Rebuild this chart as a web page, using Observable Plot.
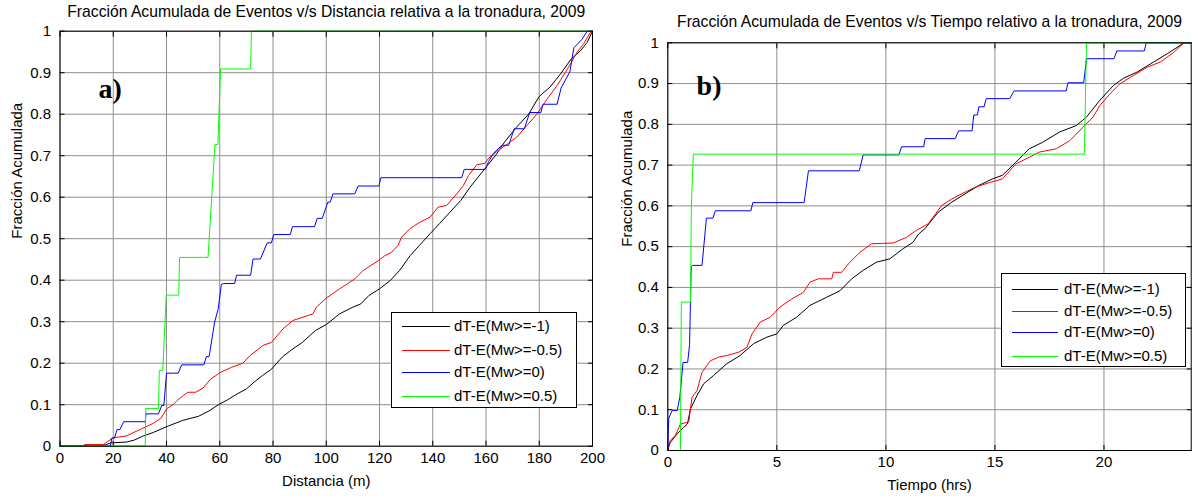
<!DOCTYPE html>
<html><head><meta charset="utf-8">
<script src="https://cdn.jsdelivr.net/npm/d3@7"></script>
<script src="https://cdn.jsdelivr.net/npm/@observablehq/plot@0.6"></script>
<style>
html,body{margin:0;padding:0;background:#fff;}
#wrap{position:relative;width:1193px;height:496px;overflow:hidden;font-family:"Liberation Sans",Arial,sans-serif;}
.panel{position:absolute;top:0;}
.panel svg{overflow:visible;}
.legend{position:absolute;background:#fff;border:1px solid #000;box-sizing:border-box;}
.legend .sw{position:absolute;height:0;border-top:1px solid;}
.legend .lab{position:absolute;font-size:15px;line-height:15px;margin-top:-8px;white-space:nowrap;color:#000;}
</style></head><body><div id="wrap"></div>
<script>
// ---- series names / colours ----
const seriesNames = ["dT-E(Mw>=-1)", "dT-E(Mw>=-0.5)", "dT-E(Mw>=0)", "dT-E(Mw>=0.5)"];
const seriesColors = ["#000000", "#ff0000", "#0000ff", "#00ff00"];

// ---- panel a) : distance (m) vs cumulative fraction ----
const distTitle = "Fracción Acumulada de Eventos v/s Distancia relativa a la tronadura, 2009";
const distXLabel = "Distancia (m)";
const distXTicks = [0, 20, 40, 60, 80, 100, 120, 140, 160, 180, 200];
const distK = [[0,0],[9,0],[9,0.003],[17,0.003],[19,0.008],[25,0.01],[28,0.015],[31,0.024],[35,0.033],[40,0.047],[46,0.062],[52,0.072],[56,0.085],[60,0.102],[63,0.112],[66,0.124],[70,0.138],[73,0.155],[76,0.17],[79.5,0.186],[83.5,0.215],[86.5,0.23],[91,0.25],[96,0.279],[100,0.293],[105,0.319],[110,0.335],[113,0.343],[116,0.363],[120,0.379],[124,0.399],[127.5,0.423],[131.5,0.459],[135,0.484],[139,0.512],[142.5,0.536],[146.5,0.564],[150.5,0.592],[154,0.624],[158,0.656],[160.5,0.676],[163.5,0.7],[167,0.733],[171.5,0.769],[176,0.8],[180,0.843],[184,0.865],[188,0.897],[192,0.933],[195.5,0.953],[198,0.973],[200,1]];
const distR = [[0,0],[9.5,0],[9.5,0.004],[16.4,0.004],[18,0.012],[20,0.02],[25,0.025],[30,0.04],[35,0.055],[38,0.068],[40,0.09],[42.5,0.1],[44,0.11],[46.3,0.122],[48,0.13],[51,0.13],[53.7,0.14],[56.3,0.16],[60,0.177],[64.4,0.19],[68.7,0.2],[71.3,0.218],[76.3,0.243],[79.4,0.25],[83.8,0.283],[87.5,0.303],[95,0.319],[96.3,0.335],[100,0.357],[105,0.379],[110.7,0.403],[113.8,0.423],[119.5,0.447],[122,0.459],[124.5,0.467],[127,0.484],[128.3,0.504],[131.4,0.524],[135.2,0.54],[139,0.552],[142,0.576],[145.2,0.58],[149,0.608],[151.5,0.628],[153.4,0.652],[156.5,0.678],[159.7,0.682],[161,0.694],[164,0.71],[168,0.728],[171.6,0.745],[175.4,0.773],[179.1,0.8],[183,0.837],[186.7,0.869],[191,0.913],[194.2,0.949],[196.7,0.97],[199.5,1],[200,1]];
const distB = [[0,0],[18.9,0],[19.5,0.02],[20.5,0.02],[21.4,0.04],[22.5,0.04],[23.9,0.059],[32,0.059],[32.3,0.078],[37,0.078],[38.2,0.098],[39,0.098],[40,0.176],[44.4,0.176],[45.7,0.196],[54,0.196],[55,0.216],[56,0.216],[58.1,0.3],[59.4,0.33],[60.6,0.39],[61.5,0.392],[65.6,0.392],[66.3,0.412],[71.6,0.412],[72.5,0.451],[75.3,0.451],[77.8,0.49],[79.4,0.49],[80.3,0.51],[86.5,0.51],[87.3,0.529],[95.6,0.529],[96.6,0.549],[98.5,0.549],[100.6,0.588],[101.5,0.588],[102.5,0.608],[110.7,0.608],[112,0.627],[119.8,0.627],[120.5,0.647],[150.9,0.647],[151.8,0.667],[159.7,0.667],[161,0.686],[162.8,0.706],[166,0.725],[168.5,0.725],[170.6,0.765],[174.4,0.765],[176.4,0.804],[180.6,0.804],[181.4,0.824],[186.7,0.824],[188.2,0.863],[189.8,0.882],[191.5,0.902],[193,0.96],[196,0.98],[198,1],[200,1]];
const distG = [[0,0],[32,0],[32.2,0.091],[37,0.091],[37.3,0.182],[38.6,0.182],[39.9,0.364],[44.6,0.364],[44.9,0.455],[55.6,0.455],[58.2,0.727],[59.3,0.727],[60.3,0.909],[71.6,0.909],[71.9,1],[200,1]];
const distTag = {label: "a)", x: 14.5, y: 0.86};

// ---- panel b) : time (hrs) vs cumulative fraction ----
const timeTitle = "Fracción Acumulada de Eventos v/s Tiempo relativo a la tronadura, 2009";
const timeXLabel = "Tiempo (hrs)";
const timeXTicks = [0, 5, 10, 15, 20];
const timeK = [[0,0],[0.05,0.01],[0.12,0.02],[0.43,0.041],[0.73,0.057],[0.9,0.065],[1.04,0.102],[1.34,0.135],[1.65,0.164],[2.1,0.184],[2.71,0.213],[3.32,0.233],[3.93,0.262],[4.54,0.278],[5,0.286],[5.3,0.307],[5.91,0.327],[6.52,0.356],[7.29,0.376],[7.9,0.392],[8.43,0.421],[8.96,0.442],[9.57,0.462],[10.18,0.47],[10.79,0.495],[11.25,0.511],[11.5,0.531],[11.79,0.544],[12.41,0.585],[13.02,0.609],[13.64,0.63],[14.26,0.65],[14.88,0.666],[15.34,0.675],[15.96,0.707],[16.57,0.74],[17.19,0.756],[17.96,0.781],[18.73,0.797],[19.2,0.818],[19.81,0.859],[20.43,0.895],[20.89,0.913],[21.51,0.928],[22.28,0.953],[22.9,0.973],[23.67,1],[24,1]];
const timeR = [[0,0],[0.05,0.015],[0.12,0.025],[0.35,0.037],[0.58,0.065],[0.96,0.07],[1.11,0.13],[1.34,0.147],[1.57,0.192],[1.95,0.22],[2.33,0.229],[2.71,0.233],[3.25,0.241],[3.63,0.253],[3.86,0.286],[4.24,0.315],[4.7,0.327],[5.15,0.352],[5.69,0.372],[6.22,0.388],[6.52,0.413],[6.9,0.421],[7.52,0.421],[7.59,0.437],[7.97,0.437],[8.35,0.462],[8.81,0.486],[9.34,0.507],[10.34,0.509],[10.95,0.523],[11.4,0.54],[11.94,0.556],[12.56,0.601],[13.02,0.617],[13.64,0.634],[14.1,0.646],[14.8,0.658],[15.34,0.666],[15.96,0.703],[16.42,0.715],[17.04,0.732],[17.81,0.74],[18.43,0.76],[19.04,0.793],[19.5,0.818],[19.81,0.846],[20.28,0.875],[20.74,0.9],[21.36,0.92],[21.98,0.94],[22.59,0.953],[23.21,0.977],[23.67,1],[24,1]];
const timeB = [[0,0],[0.03,0.06],[0.05,0.08],[0.2,0.098],[0.43,0.098],[0.55,0.13],[0.7,0.216],[0.91,0.216],[1.0,0.26],[1.07,0.45],[1.13,0.454],[1.57,0.454],[1.77,0.57],[2.07,0.57],[2.18,0.588],[3.81,0.588],[3.9,0.608],[6.25,0.608],[6.45,0.686],[8.78,0.686],[8.96,0.725],[10.6,0.725],[10.72,0.745],[11.73,0.745],[11.8,0.765],[13.18,0.765],[13.33,0.784],[13.95,0.784],[14.03,0.823],[14.2,0.823],[14.26,0.843],[14.5,0.843],[14.6,0.863],[15.68,0.863],[15.88,0.882],[18.27,0.882],[18.35,0.902],[19.07,0.902],[19.2,0.961],[20.46,0.961],[20.59,0.98],[21.85,0.98],[21.94,1],[24,1]];
const timeG = [[0,0],[0.58,0],[0.6,0.2],[0.62,0.364],[1.04,0.364],[1.08,0.6],[1.17,0.727],[19.1,0.727],[19.2,1],[24,1]];
const timeTag = {label: "b)", x: 1.32, y: 0.895};

const yTicks = [0, 0.1, 0.2, 0.3, 0.4, 0.5, 0.6, 0.7, 0.8, 0.9, 1];
const yLabel = "Fracción Acumulada";

function panel(o) {
  const data = o.series.flatMap((pts, i) => pts.map(([x, y]) => ({x, y, s: seriesNames[i]})));
  const grid = {stroke: "#8e8e8e", strokeOpacity: 1, strokeWidth: 1};
  return Plot.plot({
    width: o.width, height: 496,
    marginLeft: o.mL, marginRight: o.mR, marginTop: o.mT, marginBottom: o.mB,
    style: {fontSize: "15px", fontFamily: "Liberation Sans, Arial, sans-serif", background: "transparent", overflow: "visible", color: "#000"},
    x: {domain: o.xDomain},
    y: {domain: [0, 1]},
    color: {domain: seriesNames, range: seriesColors},
    marks: [
      Plot.gridX(o.xTicks, grid),
      Plot.gridY(yTicks, grid),
      Plot.axisX(o.xTicks, {anchor: "bottom", tickSize: 0, tickPadding: 6, label: null, tickFormat: d => String(d)}),
      Plot.axisX(o.xTicks, {anchor: "top", tickSize: -5, tickFormat: () => "", label: null}),
      Plot.axisX(o.xTicks, {anchor: "bottom", tickSize: -5, tickFormat: () => "", label: null}),
      Plot.axisY(yTicks, {anchor: "left", tickSize: 0, tickPadding: 9, label: null, tickFormat: d => String(+d.toFixed(1))}),
      Plot.axisY(yTicks, {anchor: "left", tickSize: -5, tickFormat: () => "", label: null}),
      Plot.axisY(yTicks, {anchor: "right", tickSize: -5, tickFormat: () => "", label: null}),
      Plot.line(data, {x: "x", y: "y", z: "s", stroke: "s", strokeWidth: 1}),
      Plot.text([o.tag], {x: "x", y: "y", text: "label", textAnchor: "start", fontFamily: "Liberation Serif, Times New Roman, serif", fontWeight: "bold", fontSize: 28}),
      Plot.text([o.title], {text: d => d, frameAnchor: "top", lineAnchor: "middle", dy: o.titleDy, fontSize: 15.7}),
      Plot.text([o.xLabel], {text: d => d, frameAnchor: "bottom", lineAnchor: "middle", dy: o.xLabelDy}),
      Plot.text([yLabel], {text: d => d, frameAnchor: "left", lineAnchor: "middle", dx: o.yLabelDx, rotate: -90}),
      Plot.frame({stroke: "#000"})
    ]
  });
}

function legend(box) {
  const el = document.createElement("div");
  el.className = "legend";
  Object.assign(el.style, {left: box.left + "px", top: box.top + "px", width: box.w + "px", height: box.h + "px"});
  seriesNames.forEach((name, i) => {
    const sw = document.createElement("div");
    sw.className = "sw";
    Object.assign(sw.style, {left: box.swL + "px", width: box.swW + "px", top: box.rows[i] + "px", borderTopColor: seriesColors[i]});
    const lab = document.createElement("div");
    lab.className = "lab";
    lab.textContent = name;
    Object.assign(lab.style, {left: box.textL + "px", top: box.rows[i] + "px"});
    el.appendChild(sw); el.appendChild(lab);
  });
  return el;
}

const wrap = document.getElementById("wrap");
const left = document.createElement("div"); left.className = "panel"; left.style.left = "0px";
left.appendChild(panel({series: [distK, distR, distB, distG], xDomain: [0, 200], xTicks: distXTicks, tag: distTag,
  title: distTitle, xLabel: distXLabel, width: 600, mL: 59.5, mR: 8, mT: 30.7, mB: 50.3,
  titleDy: -19.7, xLabelDy: 34.8, yLabelDx: -42.5}));
const right = document.createElement("div"); right.className = "panel"; right.style.left = "600px";
right.appendChild(panel({series: [timeK, timeR, timeB, timeG], xDomain: [0, 24], xTicks: timeXTicks, tag: timeTag,
  title: timeTitle, xLabel: timeXLabel, width: 593, mL: 67.3, mR: 2.3, mT: 42.3, mB: 46,
  titleDy: -20.8, xLabelDy: 35, yLabelDx: -40.3}));
wrap.appendChild(left);
wrap.appendChild(right);
wrap.appendChild(legend({left: 391, top: 312, w: 186, h: 96, rows: [13, 37, 59, 83], swL: 10, swW: 48, textL: 62}));
wrap.appendChild(legend({left: 1001, top: 273, w: 185, h: 94, rows: [15, 37, 58, 82], swL: 10, swW: 46, textL: 62}));
</script>
</body></html>
